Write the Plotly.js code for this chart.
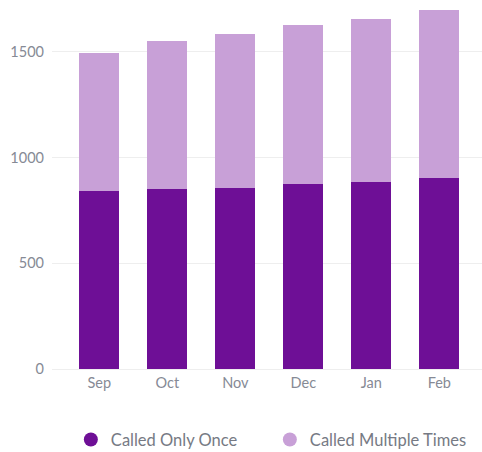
<!DOCTYPE html>
<html>
<head>
<meta charset="utf-8">
<script src="https://cdn.plot.ly/plotly-3.0.1.min.js"></script>
<style>html,body{margin:0;padding:0;background:#fff;}#chart{width:482px;height:452px;}</style>
</head>
<body>
<div id="chart"></div>
<script>
var months = ["Sep", "Oct", "Nov", "Dec", "Jan", "Feb"];
var calledOnce = [841, 852, 858, 877, 883, 901];
var calledMultiple = [654, 699, 724, 748, 772, 797];
var seriesNames = ["Called Only Once", "Called Multiple Times"];
var colors = ["#6e0f96", "#c8a0d7"];

var traces = [
  {type: "bar", x: months, y: calledOnce, name: seriesNames[0], marker: {color: colors[0]}, showlegend: false},
  {type: "bar", x: months, y: calledMultiple, name: seriesNames[1], marker: {color: colors[1]}, showlegend: false},
  {type: "scatter", mode: "markers", x: [null], y: [null], name: seriesNames[0], marker: {color: colors[0], size: 14, symbol: "circle"}},
  {type: "scatter", mode: "markers", x: [null], y: [null], name: seriesNames[1], marker: {color: colors[1], size: 14, symbol: "circle"}}
];

var layout = {
  width: 482, height: 452,
  margin: {l: 52, r: 0, t: 0, b: 83.3, autoexpand: false},
  barmode: "stack",
  bargap: 0.41,
  paper_bgcolor: "#fff", plot_bgcolor: "#fff",
  font: {family: "Lato, 'Open Sans', sans-serif", size: 14, color: "#868a95"},
  xaxis: {type: "category", range: [-0.696, 5.628], showgrid: false, zeroline: false, showline: false, ticks: "", ticklabelstandoff: 3, tickfont: {size: 14.5, color: "#868a95"}},
  yaxis: {range: [0, 1745], tickvals: [0, 500, 1000, 1500], showgrid: true, gridcolor: "#eeeeee", gridwidth: 1, zeroline: true, zerolinecolor: "#eeeeee", zerolinewidth: 1, showline: false, ticks: "", ticklabelstandoff: 7, tickfont: {size: 14.5, color: "#868a95"}},
  showlegend: true,
  legend: {orientation: "h", traceorder: "normal", xref: "container", yref: "container", x: 0.147, xanchor: "left", y: 0.027, yanchor: "middle", font: {size: 16.5, color: "#767a84"}, entrywidth: 154, entrywidthmode: "pixels", bgcolor: "rgba(0,0,0,0)"}
};

Plotly.newPlot("chart", traces, layout, {displayModeBar: false, staticPlot: true});
</script>
</body>
</html>
